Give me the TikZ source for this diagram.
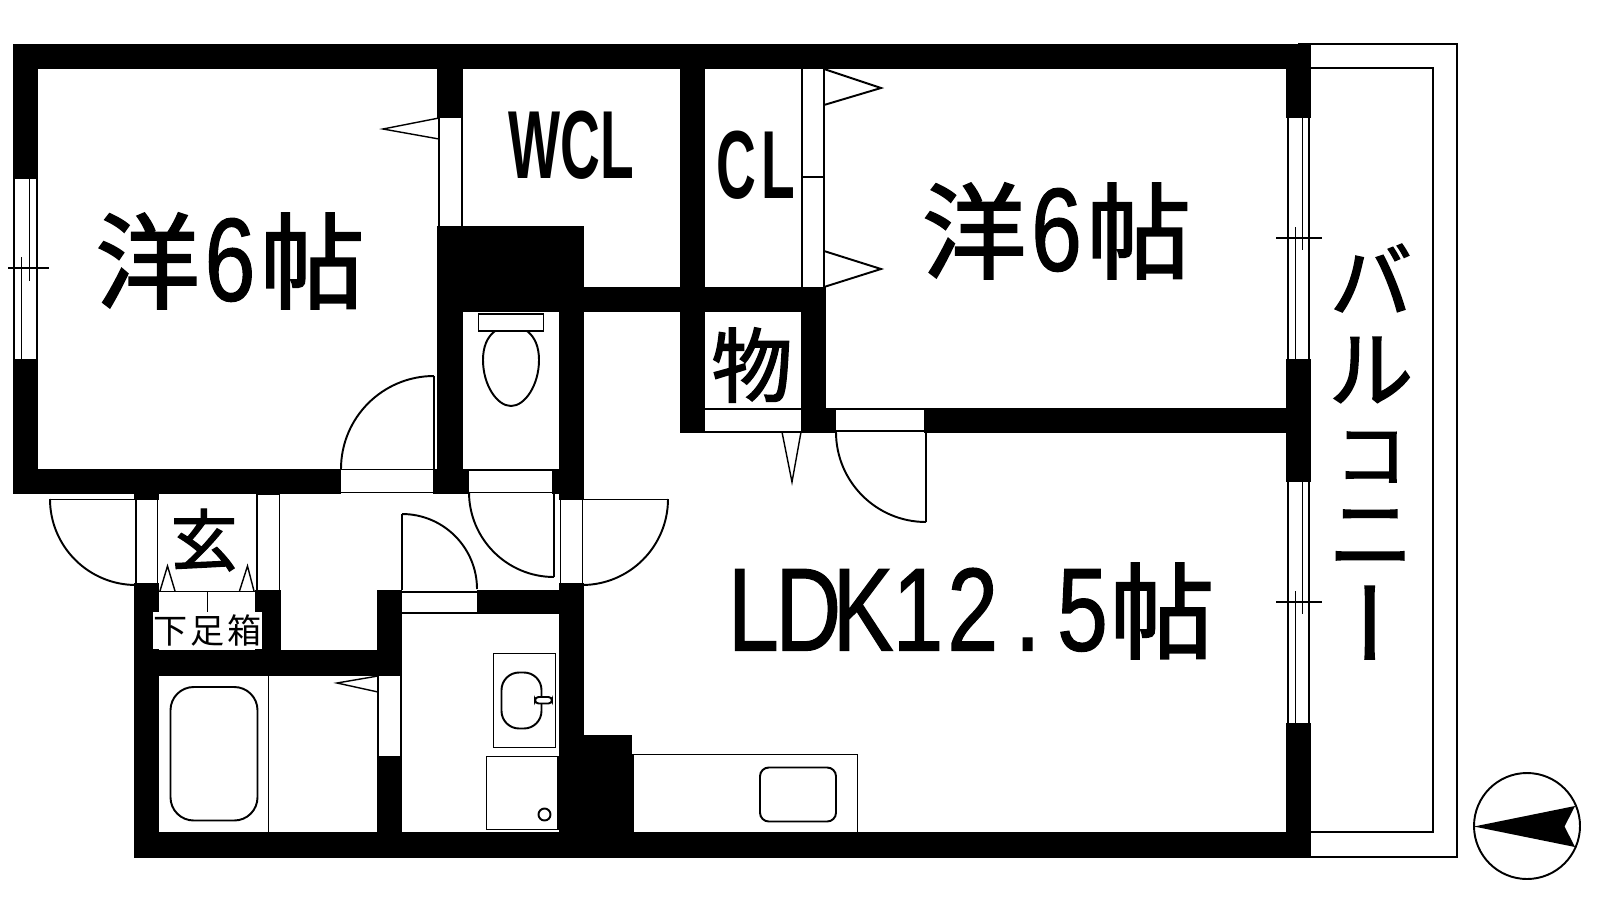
\documentclass[tikz,border=0pt]{standalone}
\usepackage{fontspec}
\usepackage{graphicx}
\newfontfamily\jpfont[FakeBold=2]{Noto Sans CJK JP}
\newfontfamily\jpthin{Noto Sans CJK JP}
\newfontfamily\latfont[FakeStretch=0.77,FakeBold=1]{Liberation Sans}
\newfontfamily\latnarrow[FakeStretch=0.57]{Liberation Sans}
\newcommand{\hc}[1]{\makebox[15.6pt]{\latfont #1}}
\newcommand{\six}{\kern1.4pt\hbox{\fontsize{33.6}{34}\latfont 6}\kern1.4pt}

\tikzset{
    wall/.style={fill=black},
    thinline/.style={draw=black, line width=0.4pt},
    swing/.style={draw=black, line width=0.55pt},
    bigtext/.style={inner sep=0pt, font=\fontsize{29.6}{30}\jpfont},
    latintext/.style={inner sep=0pt, font=\fontsize{27.5}{28}\latnarrow\bfseries},
}

\begin{document}
\begin{tikzpicture}[x=0.01cm, y=-0.01cm]
            \useasboundingbox (0, 0) rectangle (1600, 900);

            % balcony
            \draw[thinline] (1298, 44) -- (1457, 44) -- (1457, 857) -- (1298, 857);
            \draw[thinline] (1305, 68) -- (1433, 68) -- (1433, 832) -- (1305, 832);

            % walls
            \fill[wall] (13, 44) rectangle (1311, 69);
            \fill[wall] (13, 44) rectangle (38, 179);
            \fill[wall] (13, 359) rectangle (38, 494);
            \fill[wall] (13, 469) rectangle (341, 494);
            \fill[wall] (437, 44) rectangle (463, 118);
            \fill[wall] (437, 226) rectangle (463, 469);
            \fill[wall] (433, 469) rectangle (469, 494);
            \fill[wall] (437, 226) rectangle (584, 312);
            \fill[wall] (584, 287) rectangle (826, 312);
            \fill[wall] (680, 44) rectangle (705, 433);
            \fill[wall] (559, 312) rectangle (584, 500);
            \fill[wall] (552, 469) rectangle (584, 494);
            \fill[wall] (559, 583) rectangle (584, 858);
            \fill[wall] (477, 590) rectangle (559, 614);
            \fill[wall] (377, 590) rectangle (402, 676);
            \fill[wall] (377, 756) rectangle (402, 832);
            \fill[wall] (255, 590) rectangle (281, 650);
            \fill[wall] (134, 650) rectangle (402, 676);
            \fill[wall] (134, 583) rectangle (159, 858);
            \fill[wall] (134, 494) rectangle (159, 500);
            \fill[wall] (584, 735) rectangle (632, 832);
            \fill[wall] (134, 832) rectangle (1311, 858);
            \fill[wall] (801, 287) rectangle (826, 433);
            \fill[wall] (801, 408) rectangle (836, 433);
            \fill[wall] (924, 408) rectangle (1286, 433);
            \fill[wall] (1286, 44) rectangle (1311, 118);
            \fill[wall] (1286, 359) rectangle (1311, 482);
            \fill[wall] (1286, 723) rectangle (1311, 858);

            % windows
            \draw[thinline] (14, 179) -- (14, 359);
            \draw[thinline] (37, 179) -- (37, 359);
            \draw[thinline] (21.5, 257) -- (21.5, 359);
            \draw[thinline] (29.5, 179) -- (29.5, 281);
            \draw[thinline] (8, 268) -- (49, 268);

            \draw[thinline] (1288, 118) -- (1288, 359);
            \draw[thinline] (1309, 118) -- (1309, 359);
            \draw[thinline] (1295.5, 227) -- (1295.5, 359);
            \draw[thinline] (1302.5, 118) -- (1302.5, 250);
            \draw[thinline] (1276, 238) -- (1322, 238);

            \draw[thinline] (1288, 482) -- (1288, 723);
            \draw[thinline] (1309, 482) -- (1309, 723);
            \draw[thinline] (1295.5, 591) -- (1295.5, 723);
            \draw[thinline] (1302.5, 482) -- (1302.5, 614);
            \draw[thinline] (1276, 602) -- (1322, 602);

            % sliding and folding doors
            \draw[thinline] (439, 118) -- (439, 226);
            \draw[thinline] (462, 118) -- (462, 226);
            \draw[thinline] (439, 118) -- (383, 129) -- (439, 139);

            \draw[thinline] (802, 69) -- (802, 287);
            \draw[thinline] (824, 69) -- (824, 287);
            \draw[thinline] (802, 177) -- (824, 177);
            \draw[swing] (824, 69) -- (881, 88) -- (824, 105);
            \draw[swing] (824, 251) -- (881, 269) -- (824, 287);

            \draw[thinline] (705, 409) -- (801, 409);
            \draw[thinline] (705, 432) -- (801, 432);
            \draw[thinline] (782, 432) -- (792, 482) -- (801, 432);

            \draw[thinline] (378, 676) -- (378, 756);
            \draw[thinline] (401, 676) -- (401, 756);
            \draw[thinline] (378, 676) -- (337, 683) -- (378, 692);

            % swing doors
            \draw[thinline] (341, 469.5) -- (433, 469.5);
            \draw[thinline] (341, 492.5) -- (433, 492.5);
            \draw[thinline] (434, 469) -- (434, 376);
            \draw[swing] (434, 376) arc[start angle=-90, end angle=-180, radius=93];

            \draw[thinline] (836, 409) -- (924, 409);
            \draw[thinline] (836, 431) -- (924, 431);
            \draw[thinline] (926, 432) -- (926, 522);
            \draw[swing] (836, 432) arc[start angle=180, end angle=90, radius=90];

            \draw[thinline] (469, 470) -- (552, 470);
            \draw[thinline] (469, 492.5) -- (552, 492.5);
            \draw[thinline] (554, 492) -- (554, 577);
            \draw[swing] (469, 492) arc[start angle=180, end angle=90, radius=85];

            \draw[thinline] (560.5, 499) -- (560.5, 583);
            \draw[thinline] (582.5, 499) -- (582.5, 583);
            \draw[thinline] (560.5, 499.5) -- (668, 499.5);
            \draw[swing] (668, 499) arc[start angle=0, end angle=90, radius=86];

            \draw[thinline] (136, 499) -- (136, 583);
            \draw[thinline] (157.5, 499) -- (157.5, 583);
            \draw[thinline] (50, 499.5) -- (136, 499.5);
            \draw[swing] (50, 499) arc[start angle=180, end angle=90, radius=86];

            \draw[thinline] (402, 592) -- (477, 592);
            \draw[thinline] (402, 613) -- (477, 613);
            \draw[thinline] (402, 590) -- (402, 514);
            \draw[swing] (402, 514) arc[start angle=-90, end angle=0, radius=75];

            % entrance
            \draw[thinline] (257, 590) -- (257, 494) -- (279.5, 494) -- (279.5, 590);
            \draw[thinline] (159, 591.5) -- (255, 591.5);
            \draw[thinline] (207.5, 591.5) -- (207.5, 612);
            \draw[thinline] (160, 591) -- (167.5, 566) -- (175, 591);
            \draw[thinline] (239.5, 591) -- (247.5, 566) -- (254, 591);

            % bath
            \draw[thinline] (268.5, 676) -- (268.5, 832);
            \draw[swing, rounded corners=6.6pt] (170.5, 687) rectangle (257.5, 820.5);

            % toilet
            \draw[swing] (478.5, 314) rectangle (543.5, 331);
            \draw[swing] (495, 331) .. controls (487, 337) and (483, 347) .. (483, 360)
                .. controls (483, 385) and (497, 406) .. (511, 406)
                .. controls (525, 406) and (539, 385) .. (539, 360)
                .. controls (539, 347) and (535, 337) .. (527, 331);

            % washroom
            \draw[thinline] (493.5, 653.5) rectangle (555.5, 747.5);
            \draw[swing, rounded corners=5pt] (501.5, 672.5) rectangle (541.5, 728.5);
            \draw[swing, fill=white, rounded corners=1pt] (535, 697) rectangle (552, 703.5);
            \draw[thinline] (486.5, 756.5) rectangle (558, 829.5);
            \draw[swing] (544.5, 814.5) circle[radius=6];

            % kitchen
            \draw[thinline] (633, 832) -- (633, 754.5) -- (857.5, 754.5) -- (857.5, 832);
            \draw[swing, rounded corners=2.5pt] (760, 767.5) rectangle (836, 821.5);

            % compass
            \draw[swing] (1527, 826) circle[radius=53];
            \fill (1474, 826.5) -- (1575, 806) -- (1564.5, 826.5) -- (1575, 847) -- cycle;

            % labels
            \node[bigtext] (bedwest) at (230, 261) {洋\six 帖};
            \node[bigtext] (bedeast) at (1056.5, 231) {洋\six 帖};
            \node[bigtext] (ldk) at (970, 611) {\fontsize{33.6}{34}\selectfont\hc{L}\hc{D}\hc{K}\hc{1}\hc{2}\hc{.}\hc{5}\fontsize{29.6}{30}\jpfont 帖};
            \node[latintext] (wcl) at (571.5, 145) {WCL};
            \node[latintext] (cl) at (756, 165) {C\kern1.5pt L};
            \node[inner sep=0pt, font=\fontsize{23}{24}\jpfont] (store) at (752, 365) {物};
            \node[inner sep=0pt, font=\fontsize{19}{20}\jpfont] (entry) at (204, 540) {玄};
            \node[inner sep=0pt, fill=white, minimum width=1.09cm, minimum height=0.37cm, font=\fontsize{9.7}{10}\jpthin] (shoes) at (207.5, 630.5) {下\hspace{0.7pt}足\hspace{0.7pt}箱};

            % balcony label, one character a node
            \foreach \nm/\ch/\sz/\ypos in {a/バ/23.3/278, b/ル/24/370, c/コ/20.5/457, d/ニ/24/537.5}
                \node[inner sep=0pt, font=\fontsize{\sz}{\sz}\jpfont] (balcony\nm) at (1371, \ypos) {\ch};
            \node[inner sep=0pt, font=\fontsize{26}{26}\jpfont] (balconye) at (1385, 622.5) {\rotatebox{90}{ー}};

        \end{tikzpicture}
\end{document}
